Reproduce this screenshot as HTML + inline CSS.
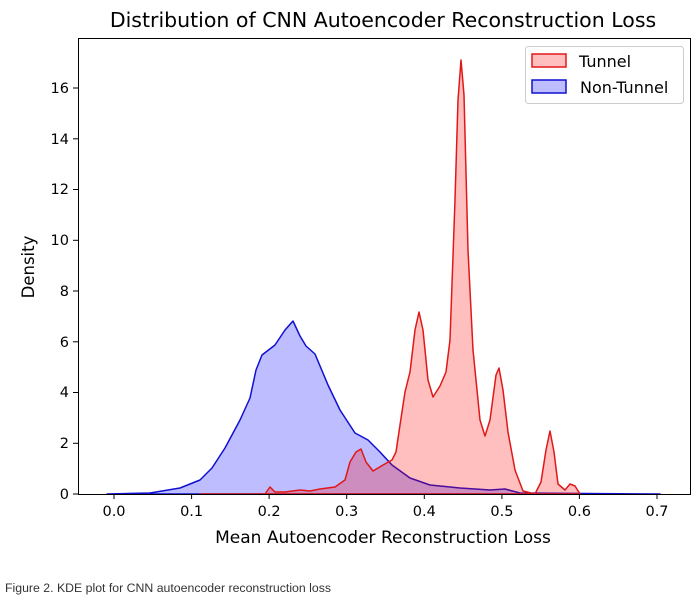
<!DOCTYPE html>
<html><head><meta charset="utf-8"><style>
body{margin:0;background:#fff;width:696px;height:605px;overflow:hidden;font-family:"DejaVu Sans","Liberation Sans",sans-serif;}
</style></head><body>
<svg width="696" height="605" xmlns="http://www.w3.org/2000/svg" font-family="DejaVu Sans, Liberation Sans, sans-serif">
<text x="383" y="27" font-size="20.5" text-anchor="middle" fill="#000">Distribution of CNN Autoencoder Reconstruction Loss</text>
<!-- blue -->
<path d="M107,494 L150,493 L180,488 L200,480 L212,468 L225,448 L240,420 L250,398 L256,370 L262,355 L275,345 L285,330 L293,321 L300,336 L306,346 L315,354 L328,385 L340,410 L355,433 L368,440 L380,452 L392,465 L410,478 L430,485 L460,488 L490,490 L505,489 L520,493 L660,494 Z" fill="rgba(0,0,255,0.26)" stroke="#1010d0" stroke-width="1.5" stroke-linejoin="round"/>
<!-- red -->
<path d="M200,494 L265,494 L270,487 L275,492 L285,492 L300,490 L310,491 L320,489 L335,487 L345,480 L350,462 L356,452 L361,449 L366,462 L373,471 L383,465 L392,460 L396,452 L400,425 L405,392 L410,372 L415,330 L419,312 L423,330 L428,380 L433,397 L440,386 L446,372 L450,340 L455,200 L458,100 L461,60 L464,95 L468,250 L473,350 L480,420 L485,436 L490,420 L496,375 L499,368 L503,390 L508,432 L515,470 L523,491 L535,494 L541,482 L546,450 L550,431 L554,452 L558,484 L565,490 L570,484 L575,486 L580,494 Z" fill="rgba(255,0,0,0.25)" stroke="#e01818" stroke-width="1.5" stroke-linejoin="round"/>
<!-- axes -->
<rect x="78.5" y="38.5" width="612" height="456" fill="none" stroke="#000" stroke-width="1"/>
<g stroke="#000" stroke-width="1">
<line x1="114" y1="494" x2="114" y2="499"/><line x1="191.6" y1="494" x2="191.6" y2="499"/><line x1="269.1" y1="494" x2="269.1" y2="499"/><line x1="346.7" y1="494" x2="346.7" y2="499"/><line x1="424.3" y1="494" x2="424.3" y2="499"/><line x1="501.9" y1="494" x2="501.9" y2="499"/><line x1="579.4" y1="494" x2="579.4" y2="499"/><line x1="657" y1="494" x2="657" y2="499"/>
<line x1="73" y1="494" x2="78" y2="494"/><line x1="73" y1="443.3" x2="78" y2="443.3"/><line x1="73" y1="392.5" x2="78" y2="392.5"/><line x1="73" y1="341.8" x2="78" y2="341.8"/><line x1="73" y1="291" x2="78" y2="291"/><line x1="73" y1="240.3" x2="78" y2="240.3"/><line x1="73" y1="189.5" x2="78" y2="189.5"/><line x1="73" y1="138.8" x2="78" y2="138.8"/><line x1="73" y1="88" x2="78" y2="88"/>
</g>
<g font-size="14.5" text-anchor="middle" fill="#000">
<text x="114" y="516">0.0</text><text x="191.6" y="516">0.1</text><text x="269.1" y="516">0.2</text><text x="346.7" y="516">0.3</text><text x="424.3" y="516">0.4</text><text x="501.9" y="516">0.5</text><text x="579.4" y="516">0.6</text><text x="657" y="516">0.7</text>
</g>
<g font-size="14.5" text-anchor="end" fill="#000">
<text x="69" y="499">0</text><text x="69" y="448">2</text><text x="69" y="397">4</text><text x="69" y="347">6</text><text x="69" y="296">8</text><text x="69" y="245">10</text><text x="69" y="194">12</text><text x="69" y="144">14</text><text x="69" y="93">16</text>
</g>
<text x="383" y="543" font-size="17" text-anchor="middle">Mean Autoencoder Reconstruction Loss</text>
<text transform="translate(34,267) rotate(-90)" font-size="16.5" text-anchor="middle">Density</text>
<!-- legend -->
<rect x="525.5" y="46.5" width="158" height="57" rx="3" fill="#fff" fill-opacity="0.8" stroke="#ccc"/>
<rect x="532" y="54" width="34" height="13" fill="rgba(255,0,0,0.25)" stroke="#e01818" stroke-width="1.5"/>
<rect x="532" y="80" width="34" height="13" fill="rgba(0,0,255,0.26)" stroke="#1010d0" stroke-width="1.5"/>
<text x="579" y="67" font-size="16">Tunnel</text>
<text x="580" y="93" font-size="16">Non-Tunnel</text>
<text x="5" y="592" font-size="12.3" fill="#333" font-family="Liberation Sans, sans-serif">Figure 2. KDE plot for CNN autoencoder reconstruction loss</text>
</svg>
</body></html>
